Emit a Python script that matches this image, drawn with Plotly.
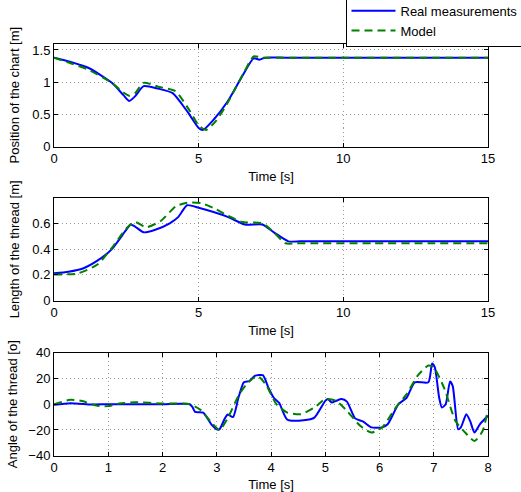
import plotly.graph_objects as go

# ---- Data: position of the chart [m] ----
t_pos_real = [0, 0.6, 1.2, 2.0, 2.4, 2.6, 2.8, 3.1, 3.6, 4.1, 4.6, 5.0, 5.15, 5.5, 6.0, 6.5, 6.9, 7.1, 7.3, 8, 9, 11, 13, 15]
pos_real = [1.38, 1.31, 1.22, 0.99, 0.80, 0.71, 0.78, 0.94, 0.90, 0.83, 0.55, 0.29, 0.26, 0.41, 0.70, 1.09, 1.37, 1.35, 1.38, 1.38, 1.38, 1.38, 1.38, 1.38]
t_pos_model = [0, 0.6, 1.2, 2.0, 2.4, 2.6, 2.8, 3.1, 3.6, 4.2, 4.7, 5.0, 5.25, 5.6, 6.0, 6.3, 6.6, 6.9, 7.2, 8, 9, 11, 13, 15]
pos_model = [1.38, 1.29, 1.19, 0.99, 0.84, 0.79, 0.83, 0.99, 0.93, 0.86, 0.55, 0.33, 0.26, 0.40, 0.68, 0.93, 1.18, 1.40, 1.38, 1.38, 1.38, 1.38, 1.38, 1.38]

# ---- Data: length of the thread [m] ----
t_len_real = [0, 0.5, 1.0, 1.5, 2.0, 2.5, 2.65, 2.8, 3.1, 3.5, 4.0, 4.3, 4.6, 5.0, 6.0, 6.6, 7.2, 7.6, 8.1, 8.5, 9, 11, 13, 15]
len_real = [0.212, 0.225, 0.25, 0.31, 0.40, 0.55, 0.59, 0.575, 0.53, 0.55, 0.60, 0.65, 0.74, 0.72, 0.65, 0.59, 0.59, 0.53, 0.46, 0.46, 0.46, 0.46, 0.46, 0.46]
t_len_model = [0, 0.8, 1.5, 2.0, 2.5, 2.8, 3.2, 3.7, 4.2, 4.6, 5.1, 5.5, 6.0, 6.5, 7.2, 7.6, 8.0, 8.4, 9, 11, 13, 15]
len_model = [0.204, 0.21, 0.28, 0.41, 0.56, 0.61, 0.57, 0.62, 0.73, 0.76, 0.755, 0.72, 0.66, 0.61, 0.60, 0.53, 0.445, 0.445, 0.445, 0.445, 0.445, 0.445]

# ---- Data: angle of the thread [o] ----
t_ang_real = [0, 0.3, 0.7, 1.0, 1.5, 2.0, 2.5, 2.55, 2.6, 2.75, 2.9, 3.0, 3.05, 3.15, 3.2, 3.3, 3.4, 3.5, 3.6, 3.7,
              3.85, 3.95, 4.05, 4.15, 4.3, 4.6, 4.8, 5.0, 5.05, 5.12, 5.2, 5.3, 5.4, 5.55, 5.7, 5.85,
              6.05, 6.15, 6.35, 6.5, 6.65, 6.9, 6.97, 7.02, 7.1, 7.15, 7.22, 7.3, 7.35, 7.45, 7.5,
              7.6, 7.67, 7.75, 7.85, 8.0]
ang_real = [-0.5, 0.8, -0.2, 0, 0, 0, 0, -2, -6, -6.5, -15.6, -19.5, -19.5, -11, -8, -10, 5, 17, 18, 22,
            22.5, 13, 5, 1, -12, -12.5, -10.4, 2.6, 4, 1.3, 2.6, 4, 2, -11, -13.5, -18,
            -18, -15.6, 0, 5, 17, 17, 31.7, 28.6, 5, -2.6, 0, 17.7, 14, -19.5, -18,
            -7.8, -13, -22, -15.6, -9]
t_ang_model = [0, 0.3, 0.5, 0.8, 1.0, 1.2, 1.5, 2.0, 2.5, 2.7, 2.9, 3.05, 3.2, 3.4, 3.55, 3.75, 3.9,
               4.1, 4.3, 4.55, 4.8, 5.0, 5.2, 5.4, 5.65, 5.85, 6.05, 6.3, 6.5, 6.7, 6.9, 7.0, 7.2,
               7.4, 7.6, 7.75, 7.9, 8.0]
ang_model = [0, 3.4, 2.6, -1.3, -1.5, 0.5, 1.5, 0.5, 0, -4.4, -14, -20, -11, 6.5, 15.6, 22, 15.6,
             0, -6.5, -7.8, -2.6, 4, 2.6, -5.2, -17, -22, -18, -2.6, 7.8, 22, 30, 28.6, 11.7,
             -13, -23, -28.6, -20.8, -4]

# ---- Axis labels / ticks ----
pos_ticks = [0, 0.5, 1, 1.5]
pos_ticklabels = ["0", "0.5", "1", "1.5"]
len_ticks = [0, 0.2, 0.4, 0.6]
len_ticklabels = ["0", "0.2", "0.4", "0.6"]
ang_ticks = [-40, -20, 0, 20, 40]
time_ticks_long = [0, 5, 10, 15]
time_ticks_short = [0, 1, 2, 3, 4, 5, 6, 7, 8]

BLUE = "#0000FF"
GREEN = "#008000"
FONT = "Liberation Sans, Arial, sans-serif"
FS = 13

fig = go.Figure()

def add_pair(tr, yr, tm, ym, xa, ya, show):
    fig.add_trace(go.Scatter(x=tr, y=yr, mode="lines", name="Real measurements",
                             line=dict(color=BLUE, width=2, shape="spline", smoothing=0.6),
                             xaxis=xa, yaxis=ya, showlegend=show, legendgroup="r"))
    fig.add_trace(go.Scatter(x=tm, y=ym, mode="lines", name="Model",
                             line=dict(color=GREEN, width=2, dash="8px,5px", shape="spline", smoothing=0.6),
                             xaxis=xa, yaxis=ya, showlegend=show, legendgroup="m"))

add_pair(t_pos_real, pos_real, t_pos_model, pos_model, "x", "y", True)
add_pair(t_len_real, len_real, t_len_model, len_model, "x2", "y2", False)
add_pair(t_ang_real, ang_real, t_ang_model, ang_model, "x3", "y3", False)

H = 492.0
def dom(top_px, bot_px):
    return [1 - bot_px / H, 1 - top_px / H]

common_ax = dict(showline=True, linecolor="black", linewidth=1, mirror="ticks",
                 ticks="inside", ticklen=4, tickcolor="black", showgrid=True,
                 gridcolor="#9a9a9a", griddash="1px,3px", gridwidth=1, zeroline=False,
                 tickfont=dict(family=FONT, size=FS, color="black"), automargin=False)

title_font = dict(family=FONT, size=FS, color="black")

fig.update_layout(
    width=521, height=492,
    margin=dict(l=54, r=33, t=0, b=0, autoexpand=False),
    paper_bgcolor="white", plot_bgcolor="white",
    font=dict(family=FONT, size=FS, color="black"),
    xaxis=dict(domain=[0, 1], range=[0, 15], tickvals=time_ticks_long, anchor="y",
               title=dict(text="Time [s]", font=title_font, standoff=6), **common_ax),
    yaxis=dict(domain=dom(43.5, 146.7), range=[0, 1.6], tickvals=pos_ticks, ticktext=pos_ticklabels,
               anchor="x", title=dict(text="Position of the chart [m]", font=title_font, standoff=9), **common_ax),
    xaxis2=dict(domain=[0, 1], range=[0, 15], tickvals=time_ticks_long, anchor="y2",
                title=dict(text="Time [s]", font=title_font, standoff=6), **common_ax),
    yaxis2=dict(domain=dom(198, 300.7), range=[0, 0.796], tickvals=len_ticks, ticktext=len_ticklabels,
                anchor="x2", title=dict(text="Length of the thread [m]", font=title_font, standoff=9), **common_ax),
    xaxis3=dict(domain=[0, 1], range=[0, 8], tickvals=time_ticks_short, anchor="y3",
                title=dict(text="Time [s]", font=title_font, standoff=6), **common_ax),
    yaxis3=dict(domain=dom(352.7, 455.7), range=[-40, 40], tickvals=ang_ticks,
                anchor="x3", title=dict(text="Angle of the thread [o]", font=title_font, standoff=7), **common_ax),
    legend=dict(x=(345.5 - 54) / 434.0, y=1 - 46.7 / H, xanchor="left", yanchor="bottom",
                bgcolor="white", bordercolor="black", borderwidth=1,
                font=dict(family=FONT, size=FS, color="black"), itemwidth=44,
                tracegroupgap=0),
    showlegend=True,
)

fig.write_html("out.html", config={"displayModeBar": False},
               post_script="document.body.style.margin='0px';")
